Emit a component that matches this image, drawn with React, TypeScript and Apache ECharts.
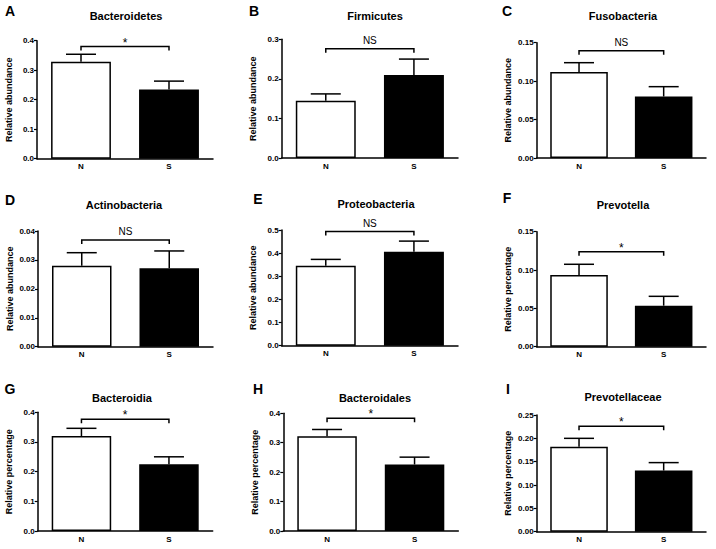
import React, { useEffect, useRef } from "react";
import * as echarts from "echarts";

const categories = ["N", "S"];
const panelLetters = ["A", "B", "C", "D", "E", "F", "G", "H", "I"];
const titles = [
  "Bacteroidetes", "Firmicutes", "Fusobacteria",
  "Actinobacteria", "Proteobacteria", "Prevotella",
  "Bacteroidia", "Bacteroidales", "Prevotellaceae",
];
const yNames = [
  "Relative abundance", "Relative abundance", "Relative abundance",
  "Relative abundance", "Relative abundance", "Relative percentage",
  "Relative percentage", "Relative percentage", "Relative percentage",
];
const nMeans = [0.329, 0.145, 0.112, 0.028, 0.346, 0.0935, 0.32, 0.322, 0.182];
const nErrTop = [0.354, 0.162, 0.124, 0.0325, 0.373, 0.1075, 0.346, 0.345, 0.2];
const sMeans = [0.235, 0.21, 0.08, 0.0271, 0.406, 0.0535, 0.225, 0.226, 0.131];
const sErrTop = [0.263, 0.25, 0.0928, 0.0331, 0.452, 0.0657, 0.25, 0.251, 0.148];
const yMax = [0.4, 0.3, 0.15, 0.04, 0.5, 0.15, 0.4, 0.4, 0.25];
const yInterval = [0.1, 0.1, 0.05, 0.01, 0.1, 0.05, 0.1, 0.1, 0.05];
const tickDecimals = [1, 1, 2, 2, 1, 2, 1, 1, 2];
const bracketHeights = [0.38, 0.276, 0.1396, 0.0369, 0.493, 0.124, 0.377, 0.383, 0.226];
const significance = ["*", "NS", "NS", "NS", "NS", "*", "*", "*", "*"];

// layout (pixels)
const grids = [
  { left: 37, top: 40.7, width: 176, height: 118 },
  { left: 281.7, top: 39.3, width: 176.3, height: 118.7 },
  { left: 536.7, top: 42.7, width: 169.3, height: 115.3 },
  { left: 38, top: 231, width: 175, height: 115.7 },
  { left: 281.7, top: 230, width: 176.3, height: 115.7 },
  { left: 536.7, top: 231.7, width: 169.3, height: 115 },
  { left: 37.7, top: 412.3, width: 175, height: 118.7 },
  { left: 283.3, top: 413.3, width: 175, height: 117.7 },
  { left: 536.7, top: 415, width: 169.3, height: 116.7 },
];
const titlePos = [
  [126, 16], [375, 16], [623, 16],
  [124, 205], [376, 204], [623, 205],
  [122, 398], [375, 398], [623, 397],
];
const letterPos = [
  [10, 11], [254, 11], [507, 11],
  [10, 200], [258, 199], [507, 198],
  [10, 389], [258, 389], [508, 389],
];

const FONT = "'Liberation Sans', Arial, sans-serif";

export default function App() {
  const ref = useRef<HTMLDivElement>(null);
  useEffect(() => {
    if (!ref.current) return;
    const chart = echarts.init(ref.current, null, { renderer: "svg" });
    const grid: any[] = [];
    const xAxis: any[] = [];
    const yAxis: any[] = [];
    const series: any[] = [];
    const graphic: any[] = [];
    for (let i = 0; i < 9; i++) {
      grid.push({ ...grids[i], containLabel: false });
      xAxis.push({
        type: "category",
        gridIndex: i,
        data: categories,
        axisLine: { lineStyle: { color: "#000", width: 1.5 } },
        axisTick: { alignWithLabel: true, length: 4, lineStyle: { color: "#000", width: 1.2 } },
        axisLabel: { color: "#000", fontSize: 8, fontWeight: "bold", fontFamily: FONT, margin: 4 },
        splitLine: { show: false },
      });
      const dec = tickDecimals[i];
      yAxis.push({
        type: "value",
        gridIndex: i,
        min: 0,
        max: yMax[i],
        interval: yInterval[i],
        name: yNames[i],
        nameLocation: "middle",
        nameGap: 24,
        nameTextStyle: { color: "#000", fontSize: 9, fontWeight: "bold", fontFamily: FONT },
        axisLine: { show: true, lineStyle: { color: "#000", width: 1.5 } },
        axisTick: { show: true, length: 3, lineStyle: { color: "#000", width: 1.2 } },
        axisLabel: {
          color: "#000", fontSize: 8, fontWeight: "bold", fontFamily: FONT, margin: 3,
          formatter: (v: number) => v.toFixed(dec),
        },
        splitLine: { show: false },
      });
      series.push({
        type: "bar",
        xAxisIndex: i,
        yAxisIndex: i,
        barWidth: "68%",
        data: [
          { value: nMeans[i], itemStyle: { color: "#fff", borderColor: "#000", borderWidth: 1.5 } },
          { value: sMeans[i], itemStyle: { color: "#000", borderColor: "#000", borderWidth: 1.5 } },
        ],
        z: 2,
      });
      series.push({
        type: "custom",
        xAxisIndex: i,
        yAxisIndex: i,
        encode: { x: 0, y: [1, 2] },
        data: [
          [0, nMeans[i], nErrTop[i]],
          [1, sMeans[i], sErrTop[i]],
        ],
        z: 3,
        renderItem: (params: any, api: any) => {
          const x = api.value(0);
          const p0 = api.coord([x, api.value(1)]);
          const p1 = api.coord([x, api.value(2)]);
          const half = 15;
          return {
            type: "group",
            children: [
              { type: "line", shape: { x1: p0[0], y1: p0[1], x2: p1[0], y2: p1[1] }, style: { stroke: "#000", lineWidth: 1.5 } },
              { type: "line", shape: { x1: p1[0] - half, y1: p1[1], x2: p1[0] + half, y2: p1[1] }, style: { stroke: "#000", lineWidth: 1.5 } },
            ],
          };
        },
      });
      const label = significance[i];
      const isStar = label === "*";
      series.push({
        type: "custom",
        xAxisIndex: i,
        yAxisIndex: i,
        encode: { x: 0, y: 2 },
        data: [[0, 1, bracketHeights[i]]],
        z: 3,
        clip: false,
        renderItem: (params: any, api: any) => {
          const h = api.value(2);
          const a = api.coord([api.value(0), h]);
          const b = api.coord([api.value(1), h]);
          return {
            type: "group",
            children: [
              {
                type: "polyline",
                shape: { points: [[a[0], a[1] + 4], [a[0], a[1]], [b[0], b[1]], [b[0], b[1] + 4]] },
                style: { stroke: "#000", lineWidth: 1.5, fill: null },
              },
              {
                type: "text",
                x: (a[0] + b[0]) / 2,
                y: isStar ? a[1] - 4 : a[1] - 8.5,
                style: {
                  text: label,
                  fill: "#000",
                  fontSize: isStar ? 12 : 10,
                  fontFamily: FONT,
                  align: "center",
                  verticalAlign: "middle",
                },
              },
            ],
          };
        },
      });
      graphic.push({
        type: "text",
        x: titlePos[i][0],
        y: titlePos[i][1],
        style: {
          text: titles[i], fill: "#000", fontSize: 11, fontWeight: "bold", fontFamily: FONT,
          align: "center", verticalAlign: "middle",
        },
      });
      graphic.push({
        type: "text",
        x: letterPos[i][0],
        y: letterPos[i][1],
        style: {
          text: panelLetters[i], fill: "#000", fontSize: 14, fontWeight: "bold", fontFamily: FONT,
          align: "center", verticalAlign: "middle",
        },
      });
    }
    chart.setOption({
      animation: false,
      backgroundColor: "#fff",
      grid,
      xAxis,
      yAxis,
      series,
      graphic,
    });
    return () => chart.dispose();
  }, []);
  return (
    <div
      ref={ref}
      style={{ position: "absolute", left: 0, top: 0, width: 716, height: 549 }}
    />
  );
}
